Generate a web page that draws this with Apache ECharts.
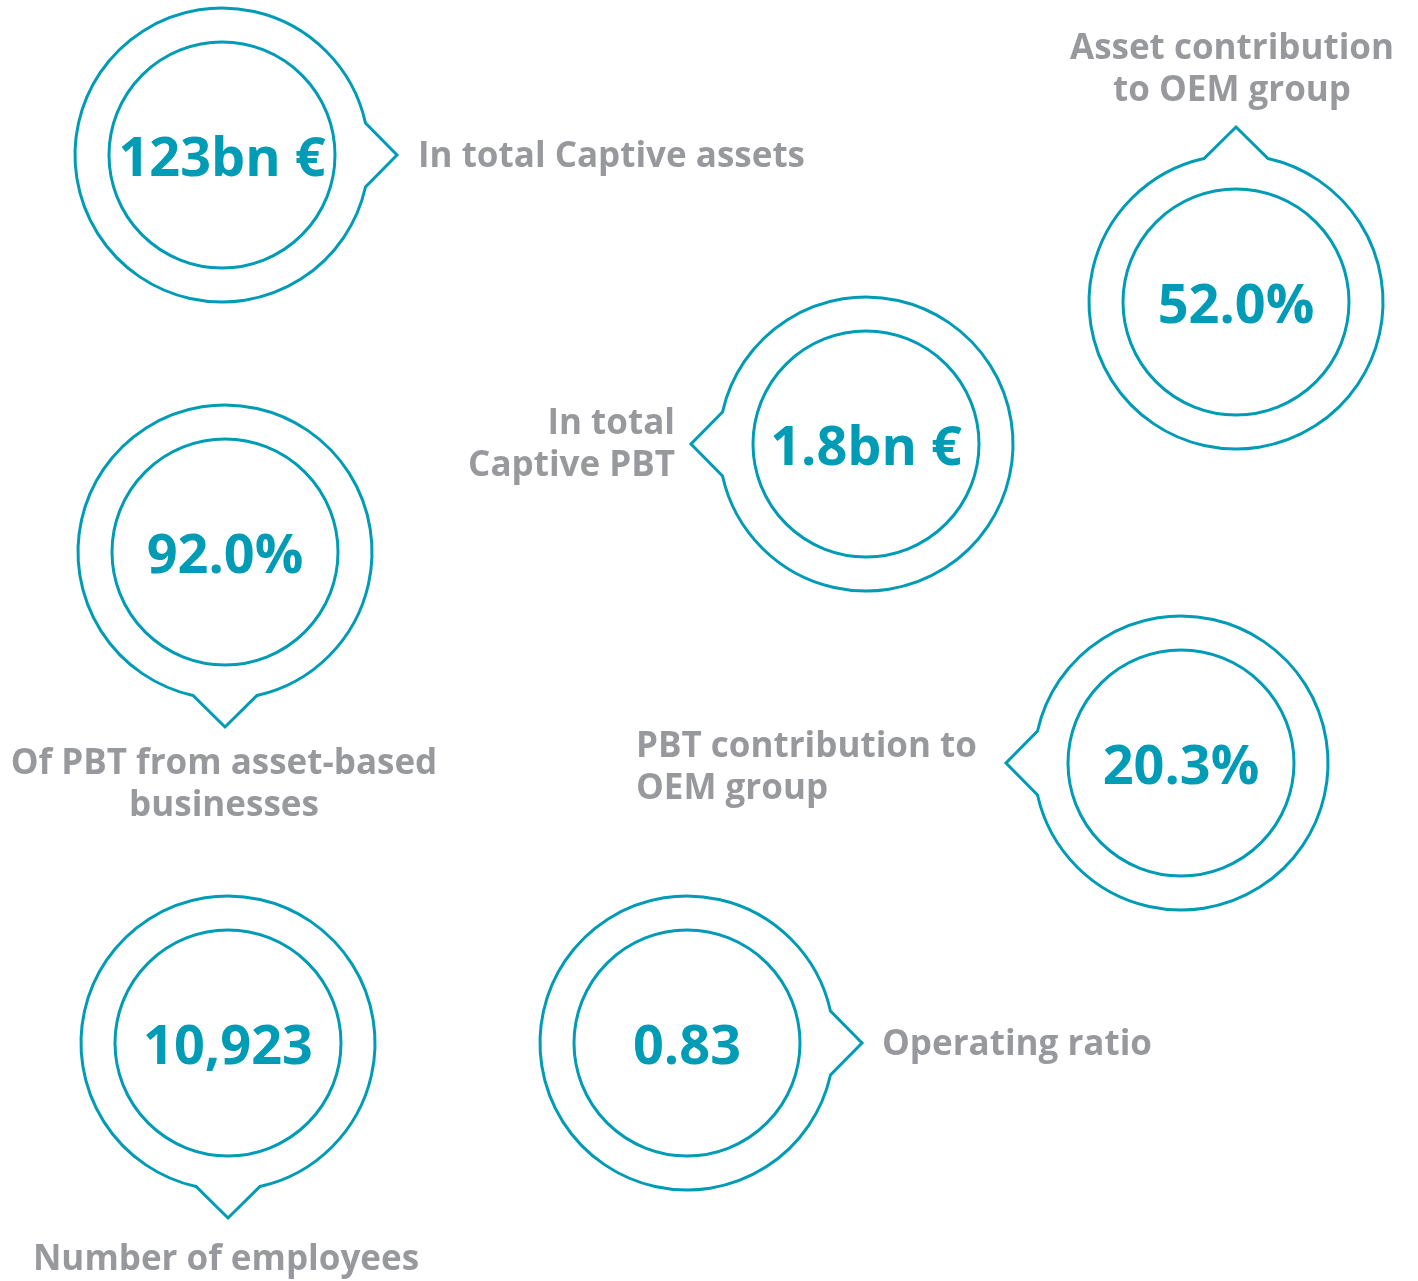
<!DOCTYPE html>
<html>
<head>
<meta charset="utf-8">
<script src="https://cdn.jsdelivr.net/npm/echarts@6/dist/echarts.min.js"></script>
<style>
html,body{margin:0;padding:0;background:#fff;}
#chart{width:1418px;height:1281px;}
</style>
</head>
<body>
<div id="chart"></div>
<script>
// ---- data ----
var values = ['123bn €', '52.0%', '1.8bn €', '92.0%', '20.3%', '10,923', '0.83'];
var labels = [
  'In total Captive assets',
  'Asset contribution\nto OEM group',
  'In total\nCaptive PBT',
  'Of PBT from asset-based\nbusinesses',
  'PBT contribution to\nOEM group',
  'Number of employees',
  'Operating ratio'
];

// ---- layout (positions, pointer direction, label anchor) ----
var layout = [
  {cx: 222,  cy: 155,  dir: 'right', lx: 418,  ly: 157,  la: 'left'},
  {cx: 1236, cy: 302,  dir: 'up',    lx: 1232, ly: 70,   la: 'center'},
  {cx: 866,  cy: 444,  dir: 'left',  lx: 675,  ly: 445,  la: 'right'},
  {cx: 225,  cy: 552,  dir: 'down',  lx: 224,  ly: 785,  la: 'center'},
  {cx: 1181, cy: 763,  dir: 'left',  lx: 636,  ly: 768,  la: 'left'},
  {cx: 228,  cy: 1043, dir: 'down',  lx: 226,  ly: 1260, la: 'center'},
  {cx: 687,  cy: 1043, dir: 'right', lx: 882,  ly: 1045, la: 'left'}
];

var TEAL = '#009bb4';
var GREY = '#98999d';
var FONT = '"Open Sans", "Noto Sans", sans-serif';
var R_OUT = 147, R_IN = 113, TIP = 175, HALF = 32;
var dirAngle = {right: 0, down: Math.PI / 2, left: Math.PI, up: -Math.PI / 2};

var seriesData = layout.map(function (l, i) { return [l.cx, l.cy, i]; });

function outerPath(c, d) {
  var th = Math.asin(HALF / R_OUT);
  var a1 = d + th, a2 = d - th;
  var p1 = [c[0] + R_OUT * Math.cos(a1), c[1] + R_OUT * Math.sin(a1)];
  var p2 = [c[0] + R_OUT * Math.cos(a2), c[1] + R_OUT * Math.sin(a2)];
  var tip = [c[0] + TIP * Math.cos(d), c[1] + TIP * Math.sin(d)];
  return 'M' + p1[0] + ' ' + p1[1] +
    ' A' + R_OUT + ' ' + R_OUT + ' 0 1 1 ' + p2[0] + ' ' + p2[1] +
    ' L' + tip[0] + ' ' + tip[1] + ' Z';
}

var chart = echarts.init(document.getElementById('chart'), null, {renderer: 'canvas'});
chart.setOption({
  backgroundColor: '#ffffff',
  animation: false,
  grid: {left: 0, right: 0, top: 0, bottom: 0},
  xAxis: {type: 'value', min: 0, max: 1418, show: false},
  yAxis: {type: 'value', min: 0, max: 1281, inverse: true, show: false},
  series: [{
    type: 'custom',
    data: seriesData,
    renderItem: function (params, api) {
      var i = api.value(2);
      var c = api.coord([api.value(0), api.value(1)]);
      var l = layout[i];
      var lp = api.coord([l.lx, l.ly]);
      return {
        type: 'group',
        children: [
          {
            type: 'path',
            shape: {pathData: outerPath(c, dirAngle[l.dir])},
            style: {fill: 'none', stroke: TEAL, lineWidth: 3, lineJoin: 'miter'}
          },
          {
            type: 'circle',
            shape: {cx: c[0], cy: c[1], r: R_IN},
            style: {fill: 'none', stroke: TEAL, lineWidth: 3}
          },
          {
            type: 'text',
            style: {
              text: values[i], x: c[0], y: c[1] + 6,
              fill: TEAL, fontFamily: FONT, fontWeight: 700, fontSize: 54,
              align: 'center', verticalAlign: 'middle'
            }
          },
          {
            type: 'text',
            style: {
              text: labels[i], x: lp[0], y: lp[1],
              fill: GREY, fontFamily: FONT, fontWeight: 700, fontSize: 35,
              lineHeight: 42, align: l.la, verticalAlign: 'middle'
            }
          }
        ]
      };
    }
  }]
});
</script>
</body>
</html>
